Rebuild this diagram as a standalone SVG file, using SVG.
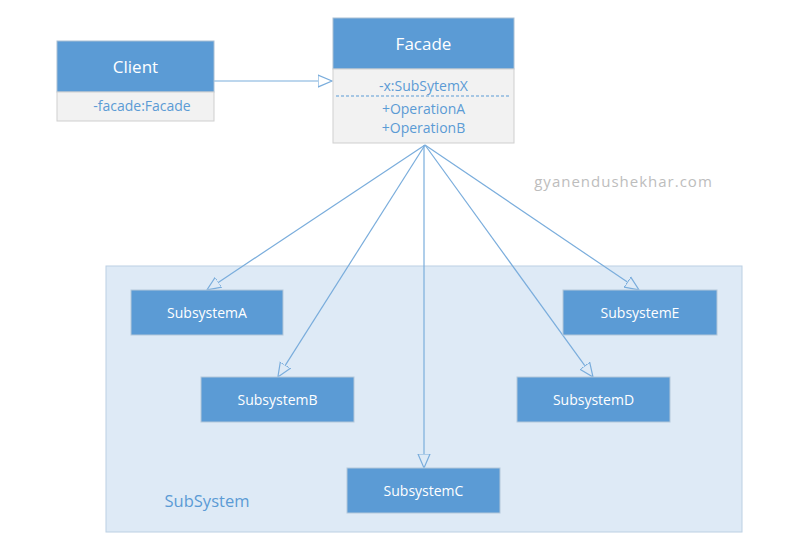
<svg xmlns="http://www.w3.org/2000/svg" width="806" height="556" viewBox="0 0 806 556">
<style>
.hdr{fill:#5b9bd5;stroke:#a9bfd4;stroke-width:1}
.cmp{fill:#f2f2f2;stroke:#cfcfcf;stroke-width:1}
.sub{fill:#5b9bd5;stroke:#b4c7d9;stroke-width:1}
.title{font-family:"Open Sans","Noto Sans",sans-serif;font-size:17px;fill:#ffffff;text-anchor:middle}
.attr{font-family:"Open Sans","Noto Sans",sans-serif;font-size:14px;fill:#5b9bd5;text-anchor:middle}
.sname{font-family:"Open Sans","Noto Sans",sans-serif;font-size:14px;fill:#ffffff;text-anchor:middle}
.conn{stroke:#7aaddc;stroke-width:1.2;fill:none;marker-end:url(#tri)}
</style>
<defs>
<marker id="tri" markerUnits="userSpaceOnUse" markerWidth="16" markerHeight="14" refX="0" refY="7" orient="auto">
<path d="M0,1 L14,7 L0,13 Z" fill="none" stroke="#7aaddc" stroke-width="1.2"/>
</marker>
</defs>
<rect width="806" height="556" fill="#ffffff"/>
<g id="subsystem-container">
<rect x="106" y="266" width="636" height="266" fill="#deeaf6" stroke="#bcd0e3" stroke-width="1"/>
<text x="207" y="507" font-family="'Open Sans','Noto Sans',sans-serif" font-size="16.5" fill="#5b9bd5" text-anchor="middle">SubSystem</text>
</g>
<text x="623.5" y="187" font-family="'Open Sans','Noto Sans',sans-serif" font-size="15" fill="#bdbdbd" text-anchor="middle" letter-spacing="1">gyanendushekhar.com</text>
<g id="connectors">
<line class="conn" x1="214" y1="81" x2="318" y2="81"/>
<line class="conn" x1="425" y1="145" x2="218.6" y2="282.2"/>
<line class="conn" x1="425" y1="145" x2="285.4" y2="365.1"/>
<line class="conn" x1="424" y1="145" x2="424" y2="454"/>
<line class="conn" x1="425" y1="145" x2="584.8" y2="365.7"/>
<line class="conn" x1="425" y1="145" x2="627.4" y2="282.1"/>
</g>
<g id="client">
<rect class="hdr" x="57" y="41" width="157" height="51"/>
<rect class="cmp" x="57" y="92" width="157" height="29"/>
<text class="title" x="135.5" y="73">Client</text>
<text class="attr" x="142" y="111">-facade:Facade</text>
</g>
<g id="facade">
<rect class="hdr" x="333" y="18" width="181" height="51"/>
<rect class="cmp" x="333" y="69" width="181" height="74"/>
<text class="title" x="423.5" y="50">Facade</text>
<text class="attr" x="423.5" y="91">-x:SubSytemX</text>
<line x1="336" y1="96" x2="510" y2="96" stroke="#5b9bd5" stroke-width="1" stroke-dasharray="3,2"/>
<text class="attr" x="423.5" y="114">+OperationA</text>
<text class="attr" x="423.5" y="133">+OperationB</text>
</g>
<g id="subsystemA">
<rect class="sub" x="131" y="290" width="152" height="45"/>
<text class="sname" x="207" y="318">SubsystemA</text>
</g>
<g id="subsystemB">
<rect class="sub" x="201" y="377" width="153" height="45"/>
<text class="sname" x="277.5" y="405">SubsystemB</text>
</g>
<g id="subsystemC">
<rect class="sub" x="347" y="468" width="153" height="45"/>
<text class="sname" x="423.5" y="496">SubsystemC</text>
</g>
<g id="subsystemD">
<rect class="sub" x="517" y="377" width="153" height="45"/>
<text class="sname" x="593.5" y="405">SubsystemD</text>
</g>
<g id="subsystemE">
<rect class="sub" x="563" y="290" width="154" height="45"/>
<text class="sname" x="640" y="318">SubsystemE</text>
</g>
</svg>
